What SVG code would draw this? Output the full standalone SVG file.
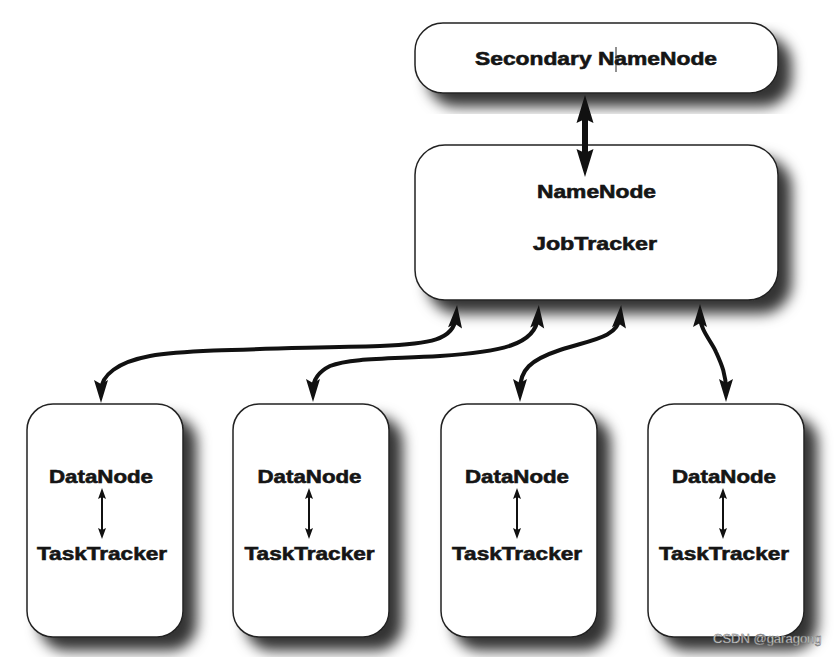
<svg xmlns="http://www.w3.org/2000/svg" width="837" height="657" viewBox="0 0 837 657">
<style>
.box{fill:#fff;stroke:#222;stroke-width:1.5;filter:url(#sh)}
.t{font-family:"Liberation Sans",Arial,sans-serif;font-weight:bold;font-size:19px;fill:#151515;stroke:#151515;stroke-width:0.6;text-anchor:middle}
.c{fill:none;stroke:#111;stroke-width:4;marker-start:url(#ah);marker-end:url(#ah)}
.cb{fill:none;stroke:#111;stroke-width:6;marker-start:url(#ahb);marker-end:url(#ahb)}
.cs{fill:none;stroke:#111;stroke-width:2;marker-start:url(#ahs);marker-end:url(#ahs)}
</style>
<defs>
<filter id="sh" x="-20%" y="-20%" width="150%" height="150%">
<feGaussianBlur in="SourceAlpha" stdDeviation="7"/>
<feOffset dx="13" dy="13" result="b"/>
<feFlood flood-color="#000" flood-opacity="0.8"/>
<feComposite in2="b" operator="in"/>
<feMerge><feMergeNode/><feMergeNode in="SourceGraphic"/></feMerge>
</filter>
<marker id="ah" markerUnits="userSpaceOnUse" orient="auto-start-reverse" markerWidth="40" markerHeight="40" refX="0" refY="0" viewBox="-20 -20 40 40" overflow="visible">
<path d="M12,0 L-11,-7 L-7,0 L-11,7 Z" fill="#111"/>
</marker>
<marker id="ahb" markerUnits="userSpaceOnUse" orient="auto-start-reverse" markerWidth="40" markerHeight="40" refX="0" refY="0" viewBox="-20 -20 40 40" overflow="visible">
<path d="M14,0 L-14,-8.5 L-10,0 L-14,8.5 Z" fill="#111"/>
</marker>
<marker id="ahs" markerUnits="userSpaceOnUse" orient="auto-start-reverse" markerWidth="20" markerHeight="20" refX="0" refY="0" viewBox="-10 -10 20 20" overflow="visible">
<path d="M5,0 L-6,-4 L-4,0 L-6,4 Z" fill="#111"/>
</marker>
</defs>
<rect width="837" height="657" fill="#fff"/>

<g id="secondary-namenode">
<rect class="box" x="415" y="23" width="363" height="70" rx="28"/>
<text class="t" x="596" y="65" textLength="242" lengthAdjust="spacingAndGlyphs">Secondary NameNode</text>
<line x1="616" y1="47" x2="616" y2="72" stroke="#222" stroke-width="1"/>
</g>

<g id="namenode-jobtracker">
<rect class="box" x="415" y="145" width="363" height="155" rx="30"/>
<text class="t" x="596.5" y="198" font-size="20" textLength="119" lengthAdjust="spacingAndGlyphs">NameNode</text>
<text class="t" x="595" y="250" font-size="20" textLength="124" lengthAdjust="spacingAndGlyphs">JobTracker</text>
</g>

<g id="worker1">
<rect class="box" x="27" y="404" width="156" height="233" rx="26"/>
<text class="t" x="101" y="483" textLength="104" lengthAdjust="spacingAndGlyphs">DataNode</text>
<text class="t" x="102" y="560" textLength="130" lengthAdjust="spacingAndGlyphs">TaskTracker</text>
<path class="cs" d="M102,493 L102,534"/>
</g>

<g id="worker2">
<rect class="box" x="233" y="404" width="156" height="233" rx="26"/>
<text class="t" x="309.5" y="483" textLength="104" lengthAdjust="spacingAndGlyphs">DataNode</text>
<text class="t" x="309.5" y="560" textLength="130" lengthAdjust="spacingAndGlyphs">TaskTracker</text>
<path class="cs" d="M309,493 L309,534"/>
</g>

<g id="worker3">
<rect class="box" x="441" y="404" width="156" height="233" rx="26"/>
<text class="t" x="517" y="483" textLength="104" lengthAdjust="spacingAndGlyphs">DataNode</text>
<text class="t" x="517" y="560" textLength="130" lengthAdjust="spacingAndGlyphs">TaskTracker</text>
<path class="cs" d="M517,493 L517,534"/>
</g>

<g id="worker4">
<rect class="box" x="648" y="404" width="156" height="233" rx="26"/>
<text class="t" x="724" y="483" textLength="104" lengthAdjust="spacingAndGlyphs">DataNode</text>
<text class="t" x="724" y="560" textLength="130" lengthAdjust="spacingAndGlyphs">TaskTracker</text>
<path class="cs" d="M723,493 L723,534"/>
</g>

<g id="connectors">
<path class="cb" d="M585,109 L585,163"/>
<path class="c" d="M456,317 C454,340 430,344 380,346 C280,349 190,349 150,356 C118,362 101,375 101,391"/>
<path class="c" d="M538,317 C536,345 500,352 440,356 C390,359 350,358 330,366 C318,372 313,380 313,390"/>
<path class="c" d="M620,317 C618,338 590,340 560,350 C530,360 520,370 520,390"/>
<path class="c" d="M700,316 C700,330 712,342 716,352 C722,365 726,375 726,390"/>
</g>

<text x="713" y="643" font-family="Liberation Sans,Arial,sans-serif" font-size="13" fill="#f4f4f4" stroke="#6a6a6a" stroke-width="0.5">CSDN @garagong</text>
</svg>
